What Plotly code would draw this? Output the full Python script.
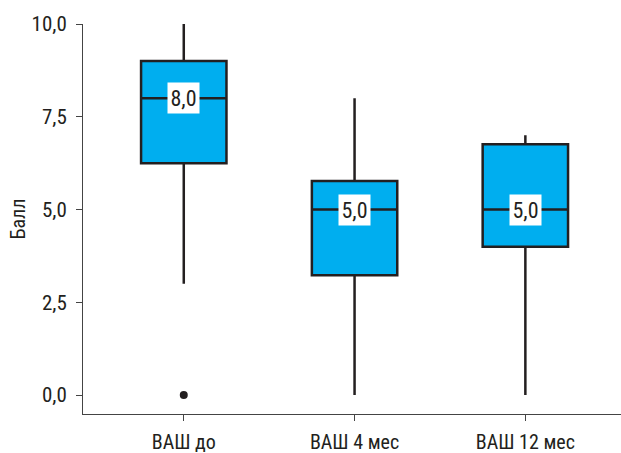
import plotly.graph_objects as go

# Pain score (VAS) summary statistics per visit
categories = ["ВАШ до", "ВАШ 4 мес", "ВАШ 12 мес"]
q1 = [6.25, 3.23, 4.0]
median = [8.0, 5.0, 5.0]
q3 = [9.0, 5.77, 6.76]
lower_fence = [3.0, 0.0, 0.0]
upper_fence = [10.0, 8.0, 7.0]
median_labels = ["8,0", "5,0", "5,0"]
outlier_x = ["ВАШ до"]
outlier_y = [0.0]

FONT = "Roboto Condensed, sans-serif"
INK = "#231f20"
AXIS = "#444444"
FILL = "#00aeef"

fig = go.Figure()
fig.add_trace(go.Box(
    x=categories,
    q1=q1, median=median, q3=q3,
    lowerfence=lower_fence, upperfence=upper_fence,
    fillcolor=FILL,
    line=dict(color=INK, width=2.5),
    whiskerwidth=0,
    width=0.5,
    boxpoints=False,
    showlegend=False,
    hoverinfo="skip",
))
fig.add_trace(go.Scatter(
    x=outlier_x, y=outlier_y, mode="markers",
    marker=dict(color=INK, size=8),
    showlegend=False, hoverinfo="skip",
))

for cat, m, lab in zip(categories, median, median_labels):
    fig.add_annotation(
        x=cat, y=m, text=lab, showarrow=False,
        bgcolor="white", borderpad=0, width=31, height=30,
        font=dict(family=FONT, size=22, color=INK),
    )

fig.update_layout(
    width=621, height=453,
    margin=dict(l=83, r=0, t=24, b=39),
    paper_bgcolor="white", plot_bgcolor="white",
    separators=", ",
    font=dict(family=FONT, size=20, color=INK),
    xaxis=dict(
        range=[-0.59, 2.56],
        showline=True, linecolor=AXIS, linewidth=1,
        ticks="outside", ticklen=6, tickcolor=AXIS,
        ticklabelstandoff=4,
        showgrid=False, zeroline=False,
        tickfont=dict(family=FONT, size=20, color=INK),
    ),
    yaxis=dict(
        range=[-0.51, 10.0],
        tickvals=[0, 2.5, 5, 7.5, 10],
        tickformat=".1f",
        showline=True, linecolor=AXIS, linewidth=1,
        ticks="outside", ticklen=6, tickcolor=AXIS,
        ticklabelstandoff=5,
        showgrid=False, zeroline=False,
        tickfont=dict(family=FONT, size=21, color=INK),
        title=dict(text="Балл", font=dict(family=FONT, size=20, color=INK), standoff=0),
    ),
)

fig.write_html("out.html")
